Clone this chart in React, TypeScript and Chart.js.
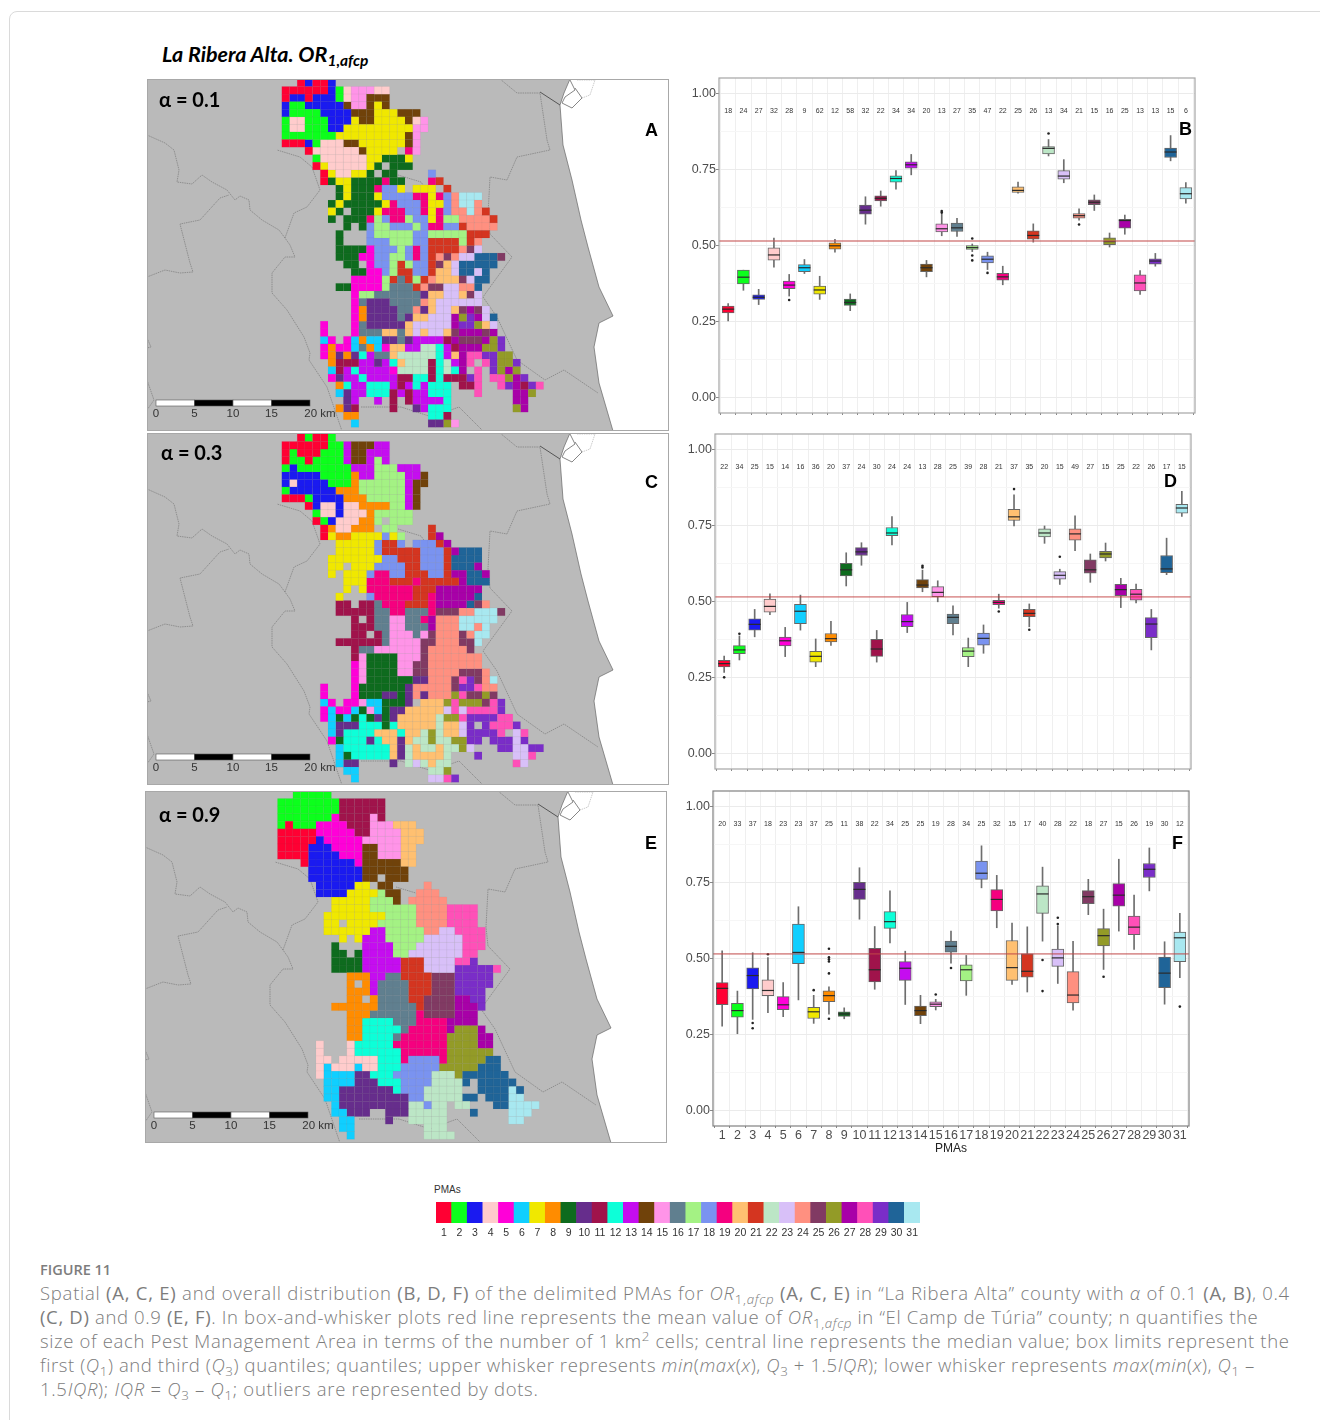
import React, { useEffect, useRef } from "react";
import { Chart, registerables } from "chart.js";
Chart.register(...registerables);

const pmaLabels = Array.from({ length: 31 }, (_, i) => String(i + 1));
const pmaColors = ["#FF0033","#0CFF1C","#1A1AF0","#FFCCCC","#FF00D8","#10CFFF","#F0E800","#FF8C00","#0E6B1E","#662D8C","#A0134B","#0DFFD8","#C50DF0","#70420A","#FF94E8","#607F8F","#A4F284","#7A93F0","#F5007F","#FFC071","#D43520","#BCE6C6","#D8C0F8","#FF9080","#813A63","#939B27","#A800A8","#FF50B8","#7A2DC8","#1F6498","#A8E8F0"];

const yTicks = [0, 0.25, 0.5, 0.75, 1];
const meanValue = 0.515;

const bN = [18,24,27,32,28,9,62,12,58,32,22,34,34,20,13,27,35,47,22,25,26,13,34,21,15,16,25,13,13,15,6];
const bQ1 = [.279,.374,.323,.452,.358,.414,.340,.488,.303,.603,.646,.708,.754,.414,.545,.546,.487,.443,.386,.674,.521,.801,.718,.590,.634,.503,.557,.351,.439,.789,.653];
const bMed = [.291,.396,.330,.469,.370,.427,.354,.499,.313,.616,.655,.720,.765,.427,.555,.558,.493,.455,.397,.681,.533,.819,.728,.598,.642,.513,.582,.377,.449,.807,.670];
const bQ3 = [.301,.419,.338,.492,.383,.437,.367,.509,.324,.633,.663,.729,.775,.439,.571,.574,.500,.466,.409,.693,.548,.825,.746,.605,.650,.525,.586,.404,.456,.820,.690];
const bLo = [.252,.353,.306,.429,.334,.408,.323,.478,.286,.570,.629,.685,.732,.397,.532,.530,.480,.421,.371,.672,.511,.794,.706,.583,.615,.495,.537,.339,.432,.778,.639];
const bHi = [.309,.419,.356,.524,.405,.454,.399,.520,.341,.660,.679,.746,.799,.451,.605,.589,.505,.478,.432,.708,.571,.848,.782,.620,.666,.541,.600,.418,.474,.861,.707];
const bOut = [[5,.321],[15,.613],[15,.608],[17,.523],[17,.467],[17,.451],[18,.410],[22,.868],[24,.569]];

const dN = [22,34,25,15,14,16,36,20,37,24,30,24,24,13,28,25,39,28,21,37,35,20,15,49,27,15,25,22,26,17,15];
const dQ1 = [.285,.329,.406,.465,.354,.427,.301,.367,.584,.651,.320,.716,.417,.545,.516,.427,.319,.357,.490,.766,.450,.712,.573,.701,.593,.643,.519,.504,.381,.595,.790];
const dMed = [.296,.341,.425,.484,.371,.468,.320,.378,.604,.663,.344,.725,.434,.554,.530,.448,.337,.379,.497,.778,.461,.725,.586,.722,.604,.656,.539,.524,.426,.607,.807];
const dQ3 = [.307,.355,.443,.508,.383,.491,.336,.395,.625,.677,.376,.743,.457,.572,.549,.459,.349,.396,.504,.803,.474,.739,.598,.739,.637,.665,.556,.540,.447,.651,.819];
const dLo = [.267,.308,.384,.457,.319,.406,.286,.356,.551,.619,.301,.686,.398,.532,.499,.390,.286,.330,.478,.748,.417,.691,.556,.667,.563,.633,.480,.495,.341,.588,.779];
const dHi = [.321,.387,.474,.525,.415,.521,.377,.435,.660,.693,.405,.779,.497,.603,.568,.486,.380,.423,.524,.850,.492,.748,.606,.781,.656,.692,.576,.557,.474,.708,.862];
const dOut = [[1,.251],[2,.394],[14,.617],[14,.612],[19,.467],[20,.869],[21,.407],[23,.647]];

const fN = [20,33,37,18,23,23,37,25,11,38,22,34,25,25,19,28,34,25,32,15,17,40,28,22,18,27,15,26,19,30,12];
const fQ1 = [.348,.307,.400,.378,.332,.483,.303,.358,.310,.694,.423,.599,.428,.312,.342,.521,.426,.760,.656,.428,.439,.648,.474,.354,.680,.541,.672,.578,.766,.404,.490];
const fMed = [.402,.329,.444,.395,.348,.520,.325,.378,.318,.727,.463,.621,.468,.329,.350,.540,.463,.780,.694,.470,.458,.712,.502,.380,.703,.575,.708,.603,.793,.452,.568];
const fQ3 = [.421,.353,.469,.430,.375,.613,.340,.394,.325,.750,.533,.654,.490,.344,.358,.557,.479,.820,.726,.559,.515,.739,.531,.457,.723,.598,.746,.639,.812,.505,.587];
const fLo = [.278,.253,.300,.322,.309,.364,.287,.317,.302,.629,.399,.551,.349,.286,.331,.485,.379,.732,.601,.415,.390,.557,.418,.330,.644,.464,.590,.530,.722,.350,.437];
const fHi = [.525,.393,.519,.503,.421,.670,.379,.407,.338,.798,.605,.722,.524,.379,.366,.590,.510,.870,.773,.616,.604,.800,.607,.556,.760,.662,.826,.708,.863,.555,.648];
const fOut = [[3,.288],[3,.271],[4,.514],[7,.396],[8,.532],[8,.504],[8,.497],[8,.490],[8,.451],[8,.302],[15,.382],[16,.469],[22,.495],[22,.393],[23,.634],[23,.613],[26,.440],[31,.342]];

// Map cells: each row lists "firstCol-lastCol:PMA" runs; the PMA is written in base 32.
const mapA = [
"2:1 3:3 4-5:1 6:3","0-5:1 6:3 7:2 8:4 9-11:f 12-13:4","0:1 1-2:3 3:1 4-6:3 7:2 8:4 9-10:f 11-13:e","0:3 1-2:2 3-7:3 8:e 9-10:f 11:e 12:7 13:e",
"0:3 1-4:2 5-8:3 9-11:e 12-14:7 15-17:e","0:2 1-2:4 3-5:2 6-8:3 9:7 10-11:e 12-15:7 16:e 17:4 18:f","0:2 1-2:4 3-5:2 6-7:3 8-16:7 17-18:f","0-6:2 7-15:7 16:e 17:f",
"0-2:1 3:3 4:2 5-7:4 8-9:e 10-15:7 16:e 17:f","3:1 4-9:4 10:e 11-14:7 16:j 17:f","4:2 5-10:4 11-12:7 13-15:9 16:7","4:1 5:7 6-10:4 11:7 12:9 14-16:9",
"5:1 6:7 7-8:4 9-10:7 11:9 13-14:9 19:i","5:1 6:9 7-8:7 9-12:9 13:j 14-15:9 19:j 20:l","7:9 8:7 9-11:9 12:j 13-14:i 15:7 17-19:7 21:l","7:9 8:7 9-11:9 12:7 13-16:i 17-18:j 19:7 20:j 21:i 22:o 23-25:v",
"6:9 7:7 8-12:9 13:7 14:j 15-17:i 18:j 19-20:7 21:i 22:o 23-24:v 25:o","6:7 7:9 9-11:9 12:7 13-15:j 16-17:i 18:j 19:7 20:j 21:i 22-23:o 24:v 25:o 26:l","6:9 8-10:9 11:j 12:h 13:i 14-15:j 16:h 17-18:i 19:7 20:j 21-22:h 23-26:o 27:l","8:9 10:9 11:i 12-13:h 14-16:i 17:h 18:i 19-20:j 21-22:i 23:l 24-27:o",
"7:9 11:i 12-16:h 17-18:i 19-23:h 24-26:l","7:9 11-13:i 14-16:h 17-18:i 19-22:l 23:h 24:l 25:o","7-10:9 11:5 12-14:i 15:h 16:i 17:j 18:i 19-22:l 23:o 24:p 25:n","7-9:9 10-11:5 12-13:i 14-15:h 16:i 17:j 18:i 19:l 20:o 21:p 22:o 23-24:n 25-27:u 28:p",
"8-9:9 11:5 12-13:i 14:h 15:l 16:h 17-18:i 19:l 20:p 21:k 22:n 23-27:u","9-10:9 11-12:5 13:i 14:h 15-16:l 17-18:i 19:l 20-21:k 22:n 23-24:u 25:n 26:u","9-12:5 13:h 14:l 15:g 16:l 17:h 18:l 19:o 20-22:k 23:p 24:n 25-26:u","7-8:9 9-12:5 13:h 14-16:g 17:l 18:o 19-20:p 21-22:n 23-24:o 25:u",
"9:5 10-11:h 12-17:g 18:a 19-20:k 21-22:n 23:k 24:p 25:n","9:5 10:g 11-13:a 14-17:g 18:o 19:k 20-25:n","9:5 10:8 11-14:a 15-16:g 17:o 18:a 19:k 20-21:n 22:k 23:p 24:r 25:p 26:n","9:5 10:8 11-14:a 15:g 16:a 17-18:k 19-21:n 22:r 23:q 24:t 25:r 26:n 27:u",
"5:5 9:5 10:g 11-15:a 16:k 17-21:n 22:r 23-24:t 25:q 26:k 27:n","5:5 9:5 10-12:g 13-14:k 15:g 16:k 17:n 18:k 19-20:n 21:k 22:p 23-25:r 26:p 27:r","5:6 6:5 8:5 9:6 10:8 11-12:6 13-14:a 15:g 16:a 17-20:d 21:b 22:r 23-25:p 26:r 27:q 28:t","5:5 6:8 7-8:5 9:6 10:g 11:8 12:6 13:5 14-15:k 16-17:d 18-19:m 20:c 21:d 22:b 23-25:r 26-27:q 28:t",
"5:5 6:8 7:a 8:8 9:a 10:c 11:d 12-13:g 14:k 15-19:m 20:c 21:d 22:k 23:r 24-25:s 26-27:t 28-29:q","6:8 7-9:b 10-11:d 12:a 13:d 14:c 15:k 16-18:m 19:b 20:c 21:m 22:d 23:r 24:s 26:s 27:t 28-29:q 30:t","6:6 7:b 8:d 9:c 10-13:d 14:5 15-18:m 19:b 20:c 21:m 22:c 23:r 25:s 27:t 28:q 29:r 30:q","6:5 7:a 8-9:d 10:c 11-14:d 15-16:b 17-18:c 19:b 20:c 21-23:b 24:t 25:s 27-28:s 29:q 30:r 31:t",
"7:8 8:c 9-10:d 11-13:c 14:d 15:b 16:d 17:c 18:d 19-21:c 23-24:b 25:s 28:s 29:t 30:r 31:b 32:t 33:s","7:6 8:a 9-10:d 11-13:c 14:b 15:d 16:b 17-18:d 19-21:c 25:s 30-31:r 32:q","8:a 9:d 12:d 14:b 16:b 17:d 18-20:d 21:c 30-31:r","7:8 8:a 9:b 14:b 17:a 18:d 19-21:c 30:q 31:r",
"8-9:8 19-20:c 21:b","9:6 19-20:a 21:q 22:f"];

const mapC = [
"2:1 3:2 4-5:1 6:2","0-5:1 6-7:2 8:d 9-11:e 12-13:d","0:1 1:2 2-4:1 5-7:2 8:d 9-10:e 11-13:d","0:1 1-2:2 3:1 4-7:2 8:d 9-10:e 11:d 12:h 13:d",
"0:2 1:3 2-8:2 9-11:d 12-14:h 15-17:d","0-4:3 5-8:2 9:8 10-11:d 12-15:h 16-17:d 18:e","0:3 1:4 2-5:3 6-8:2 9:8 10-15:h 16:d 17-18:e","0:2 1-6:3 7-9:8 10-15:h 16:d 17:e",
"0-2:1 3:2 4-7:3 8-10:8 11-15:h 16:d 17:e","3:1 4:3 5-6:4 7:3 8-9:4 10-13:8 14-15:h 16:d 17:e","4:2 5-6:4 7:3 8-10:4 11:8 12-16:h","4:1 5:2 6:3 7-9:4 10-11:8 12:h 14-16:h",
"5:1 6:8 7-8:4 9-11:8 13-14:h 19:l","5:1 6:7 7-8:8 9-12:7 13:i 14:7 15:h 19:l 20:r","7-11:7 12:i 13-14:l 15:i 17-19:i 20:l 21:r","7-11:7 12:i 13-17:l 18-20:i 21:l 22:r 23-25:u",
"6-12:7 13-14:i 15-17:l 18-20:i 21:l 22-25:u","6-7:7 9-11:7 12-15:i 16-17:l 18-20:i 21:l 22-24:u 25:r","6:7 8-10:7 11:i 12-13:j 14-15:i 16-18:l 19-20:i 21:l 22-23:r 24-25:u 26:r","8-10:7 11-13:j 14-16:l 17:j 18-22:l 23:r 24-26:u",
"8:7 10:7 11-16:j 17-19:l 20-25:r","7:7 11:i 12-16:j 17-18:l 19:j 20-24:r 25:u","7-8:b 10-11:b 12:g 13-15:j 16-18:l 19:j 20-23:r 24:u 25:p 26:o","7-11:b 12-13:g 14-15:j 16-18:g 19:j 20-22:p 23-24:o 25-27:v 28:p",
"9:b 11:b 12-13:g 14-15:f 16-17:g 18:j 19:r 20-22:o 23-27:v","9-11:b 12-13:g 14-15:f 16-18:g 19:r 20-22:o 23-24:v 25:o 26:v","9-10:b 12:b 13:g 14-16:f 17:g 18:f 19:p 20-22:o 23:p 24:o 25-26:v","7-12:b 13:g 14-17:f 18-19:p 20-22:o 23-24:p 25:v",
"9:b 10-11:g 12-17:f 18:p 19-23:o 24:p","9:b 10:f 11-14:9 15-17:f 18:p 19-25:o","9:5 10:f 11-14:9 15-16:f 17-18:p 19-25:o","9:5 10:f 11-14:9 15-16:f 17-18:p 19-22:o 23-25:p 26:o",
"9:5 10:f 11-16:9 17-18:a 19-21:o 22:p 23:s 24:t 25:p 26:o 27:v","5:5 9:5 10-15:9 16:a 17-21:o 22:p 23-24:t 25:s 26-27:o","5:5 9:5 10-12:9 13-14:a 15:9 16:a 17:o 18:a 19-21:o 22:q 23:s 24-25:p 26:q 27:p","5:6 6:5 8-9:5 10:f 11-12:6 13-15:9 16:a 18-20:k 21:q 22:s 23-25:q 26:p 27:s 28:t",
"5:5 6:6 7-8:5 9:6 10:9 11:f 12:6 13:9 14-15:a 16-20:k 21:n 22:s 23:n 24-27:s 28:t","5:5 6:6 7:9 8:6 9:9 10:c 11:9 12:a 13:9 14:a 15-19:k 20:m 21-22:q 23:s 24-27:t 28-29:s","6:6 7-9:a 10-12:c 13:9 14:c 15-19:k 20:m 21-22:k 23:n 24:t 26:t 27-29:s 30:t","6:6 7:a 8-11:c 12-14:k 15:c 16-17:k 18:m 19:q 20:m 21-22:k 23:n 24-26:t 27:t 28:s 30:n 31:s",
"6:5 7:9 8-10:c 11:a 12:c 13-14:k 15:a 16:k 17-18:m 19:q 20-21:m 22-23:q 24-25:t 27-29:t 30:n 31:t","7:6 8-13:c 14:k 15:a 16:m 17:k 18-19:m 20:k 21-22:m 23:q 24:n 28-29:t 30-31:n 32-33:t","7:6 8:9 9-13:c 14:k 15:a 16:m 17-20:k 21:m 25:t 30-31:n 32:s","7:6 8-9:a 14:a 16:m 17:n 18:m 19:k 20-21:m 30:s 31:n",
"8-9:6 19-20:m 21:q","9:6 19-20:n 21:s 22:t"];

const mapE = [
"2-6:2","0-7:2 8-13:b","0-7:2 8-13:b","0-6:2 7:5 8-11:b 12:f 13:b",
"0:2 1:1 2-4:2 5-8:5 9-11:b 12-14:f 15-17:k","0-4:1 5-9:5 10-11:b 12-15:f 16-18:k","0-4:1 5:3 6-10:5 11-15:f 16-18:k","0-3:1 4-6:3 7-10:5 11-12:e 13-15:f 16-17:k",
"0-3:1 4-7:3 8-10:5 11-12:e 13-15:f 16-17:k","3:1 4-9:3 10:5 11-15:e 16-17:k","4-10:3 11-16:e","4-10:3 11-12:e 14-16:e",
"5-9:3 10-11:7 13-14:e 19:o","5-8:3 9-12:7 13:h 14-15:e 18-20:o","7-11:7 12-14:h 15:e 17-21:o","7-11:7 12-17:h 18-21:o 22-25:s",
"6-13:7 14-17:h 18-21:o 22-25:s","6-7:7 9-12:7 13-17:h 18-21:o 22-25:s","6-11:7 12-13:d 14-18:h 19-20:o 21-22:n 23-26:s","8:7 10:7 11-13:d 14-18:h 19-23:n 24-26:s",
"7:9 11-14:d 15-17:h 18-23:n 24-26:s","7-8:9 10:9 11-14:d 15-16:h 17-23:n 24-25:s","7-10:9 11-15:d 16-18:l 19-22:n 23-24:s 25:t","7-10:9 11-15:d 16-18:l 19-22:n 23-27:t 28:s",
"9-11:8 12-13:d 14-15:g 16-19:l 20-22:p 23-27:t","9:8 11:8 12:d 13-16:g 17-19:l 20-22:p 23-27:t","9-11:8 12:d 13-16:g 17-19:l 20-22:p 23-26:t","9-10:8 12:8 13-16:g 17-18:l 19-22:p 23-24:r 25-26:t",
"7-12:8 13-17:g 18:l 19-22:p 23-25:r 26:t","9-11:8 12-17:g 18:j 19-22:p 23-25:r","9-10:8 11-14:c 15-17:g 18-21:j 22-25:r","9-10:8 11-15:c 16:g 17-21:j 22:r 23-25:q 26:r",
"9-10:8 11-14:c 15:g 16-21:j 22-25:q 26-27:r","5:4 9:4 10-14:c 15-21:j 22-25:q 26-27:r","5:4 9:4 10-15:c 16-21:j 22-27:q","5-6:4 8-12:4 13-15:c 16:j 17-20:i 21:j 22-26:q 27-28:u",
"5:4 6:6 7-9:4 10:6 11-12:4 13-15:c 16-20:i 21-25:q 26-28:u","5:4 6-9:6 10-11:a 12-14:c 15-19:i 20-22:m 23:q 24-29:u","6-9:6 10-12:a 13-15:c 16-19:i 20-23:m 24:u 26-30:u","6-7:6 8-14:a 15:c 16-18:i 19-23:m 26-29:u 30:v 31:u",
"6-7:6 8-16:a 17-18:i 19-23:m 24-25:u 27-29:u 30-31:v","7:6 8-16:a 17-18:m 19:i 20-21:m 23-24:m 28-29:u 30-33:v","7-8:6 9-11:a 14-16:a 17-21:m 25:u 30-32:v","8-9:6 14:a 17-21:m 30-31:v",
"8-9:6 19-21:m","9:6 19-22:m"];

const coast = [[423,0],[417,14],[413,26],[416,66],[425,101],[434,141],[441,168],[452,208],[466,237],[452,244],[447,268],[452,304],[466,352],[522,352],[522,0]];
const boundaries = [
[[0,56],[18,64],[27,71],[32,91],[30,103],[45,105],[55,96],[65,103],[80,111],[88,121],[93,117],[102,121],[103,131],[115,141],[132,151],[138,159],[143,166],[148,178],[138,178],[125,194],[125,214],[140,231],[157,258],[163,274],[162,281],[180,308],[195,352]],
[[0,198],[18,191],[33,194],[46,193],[43,184],[33,145],[53,141],[73,119],[82,116]],
[[138,159],[147,134],[160,128],[173,111],[165,88],[153,78],[130,71]],
[[353,0],[370,14],[393,14],[400,61],[403,71],[370,78],[360,101],[343,98],[341,136],[343,155],[365,178],[346,204],[336,218],[350,238],[370,281],[398,301],[417,291],[451,314]],
[[214,328],[254,328],[285,338],[312,328],[336,352]],
[[251,96],[274,103],[289,125]],
[[0,301],[7,321],[0,331]],
[[0,259],[4,268],[0,269]],
];
const portLine = [[393,13],[413,26]];
const portOutline = [[423,1],[428,11],[418,18],[415,24],[425,29],[435,19],[428,9]];
const portDotted = [[430,1],[448,1],[443,16],[435,19]];
const scaleBarKm = [0, 5, 10, 15, 20];
const captionSpacing = [0.75, 0.65, 0.65, 0.6, 0.7];

const mapW = 522, mapH = 352, cellW = 7.7, cellH = 7.57;

function parseRows(rows: string[]) {
  const byPma: { x: number; y: number }[][] = pmaLabels.map(() => []);
  rows.forEach((row, r) => row.split(" ").forEach((run) => {
    const [span, id] = run.split(":");
    const [a, b] = span.split("-").map(Number);
    for (let c = a; c <= (b ?? a); c++) byPma[parseInt(id, 32) - 1].push({ x: c, y: r });
  }));
  return byPma;
}

function MapChart({ rows, left, top, originX, originY }: any) {
  const ref = useRef<HTMLCanvasElement>(null);
  useEffect(() => {
    const poly = (ctx: any, sx: any, sy: any, pts: number[][]) => {
      ctx.beginPath();
      pts.forEach(([x, y], i) => (i ? ctx.lineTo(sx.getPixelForValue(x), sy.getPixelForValue(y)) : ctx.moveTo(sx.getPixelForValue(x), sy.getPixelForValue(y))));
    };
    const ground = {
      id: "ground",
      beforeDatasetsDraw(c: any) {
        const { ctx, scales: { x, y }, chartArea: a } = c;
        ctx.save();
        ctx.fillStyle = "#BABABA";
        ctx.fillRect(a.left, a.top, a.width, a.height);
        ctx.fillStyle = "#FFFFFF";
        poly(ctx, x, y, coast); ctx.closePath(); ctx.fill();
        ctx.strokeStyle = "#666"; ctx.lineWidth = 0.7;
        poly(ctx, x, y, coast.slice(0, 13)); ctx.stroke();
        ctx.strokeStyle = "#707070"; ctx.lineWidth = 0.6; ctx.setLineDash([1.5, 0.8]);
        boundaries.forEach((b) => { poly(ctx, x, y, b); ctx.stroke(); });
        ctx.strokeStyle = "#AAA";
        poly(ctx, x, y, portDotted); ctx.stroke();
        ctx.setLineDash([]);
        ctx.strokeStyle = "#555"; ctx.lineWidth = 1;
        poly(ctx, x, y, portLine); ctx.stroke();
        ctx.strokeStyle = "#666"; ctx.lineWidth = 0.8;
        poly(ctx, x, y, portOutline); ctx.stroke();
        ctx.restore();
      },
      afterDatasetsDraw(c: any) {
        const { ctx, scales: { x, y }, chartArea: a } = c;
        ctx.save();
        const kmPx = 38.5, barLeft = 9, barTop = 321, barH = 6;
        scaleBarKm.slice(0, 4).forEach((_, i) => {
          const px = x.getPixelForValue(barLeft + i * kmPx), qx = x.getPixelForValue(barLeft + (i + 1) * kmPx);
          const py = y.getPixelForValue(barTop), qy = y.getPixelForValue(barTop + barH);
          ctx.fillStyle = i % 2 ? "#000" : "#fff";
          ctx.fillRect(px, py, qx - px, qy - py);
          ctx.strokeStyle = "#555"; ctx.lineWidth = 0.6;
          ctx.strokeRect(px, py, qx - px, qy - py);
        });
        ctx.fillStyle = "#333"; ctx.font = "11.5px 'Liberation Sans'"; ctx.textAlign = "center"; ctx.textBaseline = "middle";
        scaleBarKm.forEach((km, i) => {
          ctx.fillText(km === 20 ? "20 km" : String(km), x.getPixelForValue(barLeft + i * kmPx + (km === 20 ? 10 : 0)), y.getPixelForValue(barTop + 14));
        });
        ctx.strokeStyle = "#A8A8A8"; ctx.lineWidth = 1;
        ctx.strokeRect(a.left + 0.5, a.top + 0.5, a.width - 1, a.height - 1);
        ctx.restore();
      },
    };
    const cells = parseRows(rows);
    const chart = new Chart(ref.current as any, {
      type: "scatter",
      data: {
        datasets: cells.map((pts, i) => ({
          label: pmaLabels[i],
          data: pts.map((p) => ({ x: originX + (p.x + 0.5) * cellW, y: originY + (p.y + 0.5) * cellH })),
          pointStyle: "rect",
          pointRadius: cellW * Math.SQRT1_2,
          backgroundColor: pmaColors[i],
          pointBorderColor: "rgba(90,90,90,0.09)",
          pointBorderWidth: 0.5,
        })),
      },
      options: {
        animation: false, responsive: false, events: [],
        layout: { padding: 0, autoPadding: false },
        plugins: { legend: { display: false }, tooltip: { enabled: false } },
        scales: {
          x: { type: "linear", min: 0, max: mapW, display: false },
          y: { type: "linear", min: 0, max: mapH, reverse: true, display: false },
        },
      },
      plugins: [ground],
    } as any);
    return () => chart.destroy();
  }, []);
  return <canvas ref={ref} width={mapW} height={mapH} style={{ position: "absolute", left, top, width: mapW, height: mapH }} />;
}

function BoxChart({ n, q1, med, q3, lo, hi, out, left, top, labelled, borderColor, meanColor, meanWidth }: any) {
  const ref = useRef<HTMLCanvasElement>(null);
  const axisW = 45, boxW = 476, boxH = 335, padT = 2, padR = 3, axisH = labelled ? 30 : 6;
  useEffect(() => {
    const xs = pmaLabels.map((_, i) => i + 1);
    const deco = {
      id: "deco",
      afterDatasetsDraw(c: any) {
        const { ctx, scales: { x, y }, chartArea: a } = c;
        ctx.save();
        ctx.strokeStyle = meanColor; ctx.lineWidth = meanWidth;
        ctx.beginPath();
        ctx.moveTo(a.left, y.getPixelForValue(meanValue)); ctx.lineTo(a.right, y.getPixelForValue(meanValue));
        ctx.stroke();
        ctx.fillStyle = "#333"; ctx.font = "7px 'Liberation Sans'"; ctx.textAlign = "center"; ctx.textBaseline = "middle";
        n.forEach((v: number, i: number) => ctx.fillText(String(v), x.getPixelForValue(xs[i]), y.getPixelForValue(0.942)));
        ctx.strokeStyle = borderColor; ctx.lineWidth = 1.2;
        ctx.strokeRect(a.left, a.top, a.width, a.height);
        ctx.restore();
      },
    };
    const flat = (s: any) => { s.paddingTop = 0; s.paddingBottom = 0; s.paddingLeft = 0; s.paddingRight = 0; };
    const chart = new Chart(ref.current as any, {
      type: "bar",
      data: {
        datasets: [
          { type: "scatter", data: out.map(([p, v]: number[]) => ({ x: p, y: v })), pointRadius: 1.3, backgroundColor: "#222", borderWidth: 0, order: 0 },
          { type: "scatter", data: xs.map((p, i) => ({ x: p, y: med[i] })), pointStyle: "line", pointRadius: 6, pointBorderWidth: 1.2, pointBorderColor: "#2a2a2a", order: 1 },
          { data: xs.map((p, i) => ({ x: p, y: [q1[i], q3[i]] })), backgroundColor: pmaColors, borderColor: "#666", borderWidth: 1, borderSkipped: false, barThickness: 12, grouped: false, order: 2 },
          { data: xs.map((p, i) => ({ x: p, y: [lo[i], hi[i]] })), backgroundColor: "#6e6e6e", barThickness: 1, grouped: false, order: 3 },
        ],
      },
      options: {
        animation: false, responsive: false, events: [],
        layout: { padding: { top: padT, right: padR, left: 0, bottom: 0 }, autoPadding: false },
        plugins: { legend: { display: false }, tooltip: { enabled: false } },
        scales: {
          x: {
            type: "linear", min: 0.4, max: 31.6, offset: false,
            afterFit: (s: any) => { s.height = axisH; flat(s); },
            grid: { color: "#EFEFEF", lineWidth: 1, tickLength: 2, tickColor: "#888" },
            border: { display: false },
            title: { display: !!labelled, text: "PMAs", color: "#222", font: { family: "Liberation Sans", size: 12 }, padding: 0 },
            ticks: { display: !!labelled, stepSize: 1, includeBounds: false, autoSkip: false, maxRotation: 0, padding: 0, color: "#4D4D4D", font: { family: "Liberation Sans", size: 12.5 } },
          },
          y: {
            type: "linear", min: -0.05, max: 1.05,
            afterFit: (s: any) => { s.width = axisW; flat(s); },
            border: { display: false },
            grid: { color: (t: any) => (yTicks.includes(t.tick?.value) ? "#EBEBEB" : "#F6F6F6"), lineWidth: 1, tickLength: 3, tickColor: (t: any) => (yTicks.includes(t.tick?.value) ? "#888" : "transparent") },
            ticks: {
              stepSize: 0.125, includeBounds: false, autoSkip: false, padding: 0, color: "#4D4D4D",
              font: { family: "Liberation Sans", size: 12.5 },
              callback: (v: number) => (yTicks.includes(v) ? v.toFixed(2) : ""),
            },
          },
        },
      },
      plugins: [deco],
    } as any);
    return () => chart.destroy();
  }, []);
  const w = axisW + boxW + padR, h = padT + boxH + axisH;
  return <canvas ref={ref} width={w} height={h} style={{ position: "absolute", left: left - axisW, top: top - padT, width: w, height: h }} />;
}

function LegendStrip() {
  const ref = useRef<HTMLCanvasElement>(null);
  useEffect(() => {
    const chart = new Chart(ref.current as any, {
      type: "bar",
      data: { labels: pmaLabels, datasets: [{ data: pmaLabels.map(() => 1), backgroundColor: pmaColors, categoryPercentage: 1, barPercentage: 1 }] },
      options: {
        animation: false, responsive: false, events: [],
        layout: { padding: 0, autoPadding: false },
        plugins: { legend: { display: false }, tooltip: { enabled: false } },
        scales: {
          x: { afterFit: (s: any) => { s.height = 18; }, grid: { display: false, drawTicks: false }, border: { display: false }, ticks: { autoSkip: false, maxRotation: 0, padding: 4, color: "#333", font: { family: "Liberation Sans", size: 10.5 } } },
          y: { display: false, min: 0, max: 1 },
        },
      },
    } as any);
    return () => chart.destroy();
  }, []);
  return <canvas ref={ref} width={486} height={39} style={{ position: "absolute", left: 436, top: 1202, width: 486, height: 39 }} />;
}

const T = ({ x, y, size = 18, weight = 700, family = "'Liberation Sans'", style, children }: any) => (
  <div style={{ position: "absolute", left: x, top: y, fontSize: size, lineHeight: "20px", fontWeight: weight, fontFamily: family, color: "#000", whiteSpace: "nowrap", ...style }}>{children}</div>
);
const sub: any = { fontSize: "0.72em", verticalAlign: "-0.28em", lineHeight: 0 };
const OR = () => <><i>OR</i><span style={sub}>1,<i>afcp</i></span></>;
const Q = ({ k }: any) => <><i>Q</i><span style={sub}>{k}</span></>;
const capLines = [
  <>Spatial <b>(A, C, E)</b> and overall distribution <b>(B, D, F)</b> of the delimited PMAs for <OR /> <b>(A, C, E)</b> in “La Ribera Alta” county with <i>α</i> of 0.1 <b>(A, B)</b>, 0.4</>,
  <><b>(C, D)</b> and 0.9 <b>(E, F)</b>. In box-and-whisker plots red line represents the mean value of <OR /> in “El Camp de Túria” county; n quantifies the</>,
  <>size of each Pest Management Area in terms of the number of 1 km<span style={{ fontSize: "0.72em", verticalAlign: "0.5em", lineHeight: 0 }}>2</span> cells; central line represents the median value; box limits represent the</>,
  <>first (<Q k="1" />) and third (<Q k="3" />) quantiles; quantiles; upper whisker represents <i>min</i>(<i>max</i>(<i>x</i>), <Q k="3" /> + 1.5<i>IQR</i>); lower whisker represents <i>max</i>(<i>min</i>(<i>x</i>), <Q k="1" /> –</>,
  <>1.5<i>IQR</i>); <i>IQR</i> = <Q k="3" /> – <Q k="1" />; outliers are represented by dots.</>,
];

export default function App() {
  const cap = "'Open Sans'";
  return (
    <div style={{ position: "absolute", left: 0, top: 0, width: 1320, height: 1420, overflow: "hidden", background: "#fff" }}>
      <div style={{ position: "absolute", left: 9, top: 11, width: 1340, height: 1440, border: "1px solid #DADADA", borderRadius: 8 }} />
      <T x={162} y={44} size={21.5} family="Lato" style={{ fontStyle: "italic" }}>La Ribera Alta. <span>OR</span><span style={sub}>1,afcp</span></T>
      <MapChart rows={mapA} left={147} top={79} originX={134.8} originY={0} />
      <MapChart rows={mapC} left={147} top={433} originX={134.8} originY={1} />
      <MapChart rows={mapE} left={145} top={791} originX={132.5} originY={0} />
      <BoxChart n={bN} q1={bQ1} med={bMed} q3={bQ3} lo={bLo} hi={bHi} out={bOut} left={719} top={78} borderColor="#A5A5A5" meanColor="rgba(200,90,90,0.75)" meanWidth={1.5} />
      <BoxChart n={dN} q1={dQ1} med={dMed} q3={dQ3} lo={dLo} hi={dHi} out={dOut} left={715} top={434} borderColor="#A5A5A5" meanColor="rgba(190,50,50,0.85)" meanWidth={1} />
      <BoxChart n={fN} q1={fQ1} med={fMed} q3={fQ3} lo={fLo} hi={fHi} out={fOut} left={713} top={791} labelled borderColor="#808080" meanColor="#C04848" meanWidth={1} />
      <T x={159} y={89} size={20} family="Lato">α = 0.1</T>
      <T x={161} y={442} size={20} family="Lato">α = 0.3</T>
      <T x={159} y={804} size={20} family="Lato">α = 0.9</T>
      <T x={645} y={120}>A</T><T x={1179} y={119}>B</T>
      <T x={645} y={472}>C</T><T x={1164} y={471}>D</T>
      <T x={645} y={833}>E</T><T x={1172} y={833}>F</T>
      <T x={434} y={1180} size={10} weight={400} style={{ color: "#333" }}>PMAs</T>
      <LegendStrip />
      <T x={40} y={1260} size={14.5} family={cap} style={{ color: "#7d7d7d", fontWeight: 600 }}>FIGURE 11</T>
      {capLines.map((l, i) => (
        <div key={i} style={{ position: "absolute", left: 40, top: 1281 + i * 24, height: 24, lineHeight: "24px", fontFamily: cap, fontSize: 18.5, fontWeight: 300, color: "#7c7c7c", whiteSpace: "nowrap", letterSpacing: captionSpacing[i] }}>{l}</div>
      ))}
    </div>
  );
}
